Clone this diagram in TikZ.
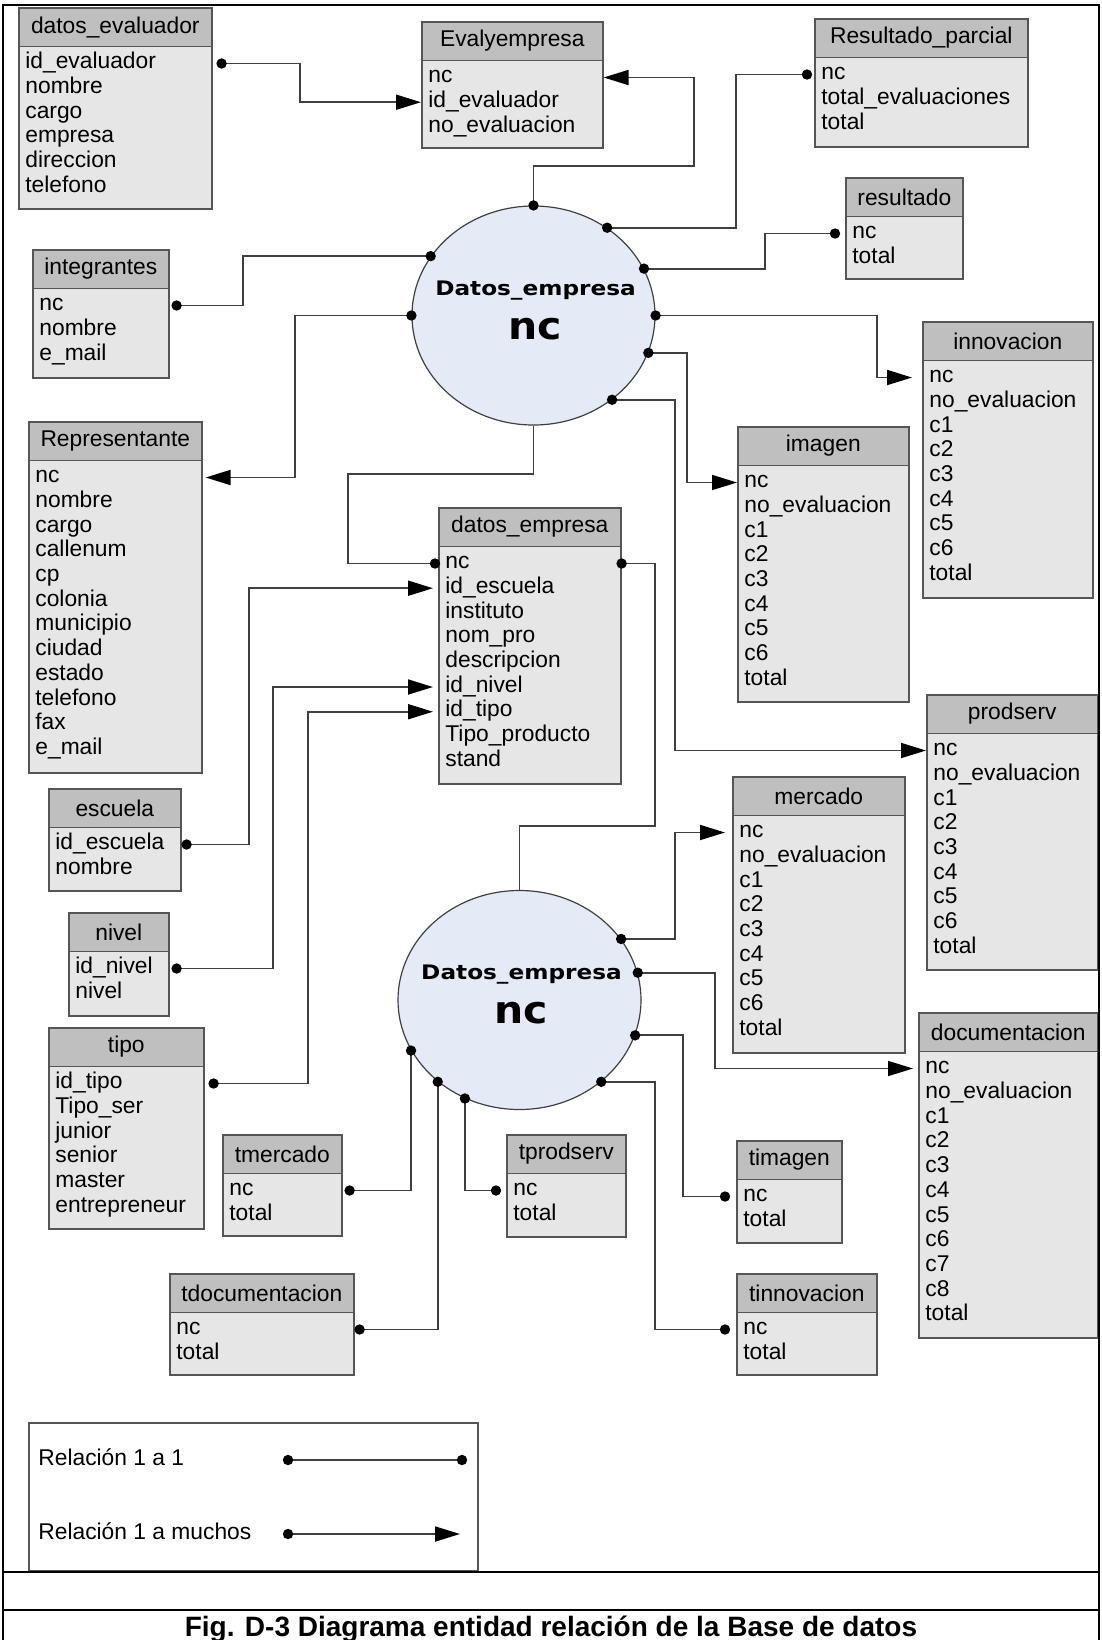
\documentclass[tikz,border=0pt]{standalone}
\usepackage{graphicx}
\usepackage{fontspec}
\setmainfont{Liberation Sans}
\newfontfamily\circfont{DejaVu Sans}
\usepackage{tikz}
\usetikzlibrary{arrows.meta,calc,shapes.geometric}

\definecolor{cabgris}{HTML}{BFBFBF}
\definecolor{cuegris}{HTML}{E6E6E6}
\definecolor{borde}{HTML}{555555}
\definecolor{linea}{HTML}{404040}
\definecolor{circulo}{HTML}{E4EAF6}

\newcommand{\tabfont}{\fontsize{11.4}{13}\selectfont}

\tikzset{
  cuerpo/.style={draw=borde,fill=cuegris,line width=0.8pt,anchor=north west,inner sep=0pt},
  cabecera/.style={draw=borde,fill=cabgris,line width=0.8pt,anchor=north west,inner sep=0pt,
    minimum height=19.25pt,font=\tabfont},
  campo/.style={anchor=mid west,inner sep=0pt,font=\tabfont},
  entidad/.style={ellipse,draw=linea,fill=circulo,line width=0.6pt,
    minimum width=121.5pt,minimum height=109.5pt,inner sep=0pt},
  titent/.style={anchor=base,inner sep=0pt,font=\circfont\bfseries\fontsize{10}{12}\selectfont},
  clavent/.style={anchor=base,inner sep=0pt,font=\circfont\bfseries\fontsize{19}{22}\selectfont},
  rel/.style={draw=linea,line width=0.9pt},
  muchos/.style={rel,-{Triangle[length=12.5pt,width=7.5pt,color=black]}},
}

% name, left, top, right, bottom, title, fields
\newcommand{\tabla}[7]{%
  \node [cuerpo,minimum width={(#4-#2)*0.5pt},minimum height={(#5-#3)*0.5pt}] (#1) at (#2,#3) {};
  \node [cabecera,minimum width={(#4-#2)*0.5pt}] (#1-t) at (#2,#3) {#6};
  \foreach \campo [count=\i] in {#7}
    \node [campo] (#1-\i) at ({#2+7},{#3+56.5+24.7*(\i-1)}) {\campo};
}

\begin{document}
\begin{tikzpicture}[x=0.5pt,y=-0.5pt]
  \useasboundingbox (0,0) rectangle (1102,1640);

  \tabla{evaluador}{18}{7}{211}{208}{datos\_evaluador}{id\_evaluador,nombre,cargo,empresa,direccion,telefono}
  \tabla{evalyemp}{421}{21}{602}{147}{Evalyempresa}{nc,id\_evaluador,no\_evaluacion}
  \tabla{resparcial}{814}{18}{1027}{146}{Resultado\_parcial}{nc,total\_evaluaciones,total}
  \tabla{resultado}{845}{177}{962}{278}{resultado}{nc,total}
  \tabla{integrantes}{32}{249}{168}{377}{integrantes}{nc,nombre,e\_mail}
  \tabla{innovacion}{922}{321}{1092}{597}{innovacion}{nc,no\_evaluacion,c1,c2,c3,c4,c5,c6,total}
  \tabla{representante}{28}{421}{201}{772}{Representante}{nc,nombre,cargo,callenum,cp,colonia,municipio,ciudad,estado,telefono,fax,e\_mail}
  \tabla{imagen}{737}{426}{908}{701}{imagen}{nc,no\_evaluacion,c1,c2,c3,c4,c5,c6,total}
  \tabla{empresa}{438}{507}{620}{783}{datos\_empresa}{nc,id\_escuela,instituto,nom\_pro,descripcion,id\_nivel,id\_tipo,Tipo\_producto,stand}
  \tabla{prodserv}{926}{694}{1097}{969}{prodserv}{nc,no\_evaluacion,c1,c2,c3,c4,c5,c6,total}
  \tabla{mercado}{732}{776}{904}{1052}{mercado}{nc,no\_evaluacion,c1,c2,c3,c4,c5,c6,total}
  \tabla{escuela}{48}{788}{180}{890}{escuela}{id\_escuela,nombre}
  \tabla{nivel}{68}{912}{168}{1015}{nivel}{id\_nivel,nivel}
  \tabla{documentacion}{918}{1012}{1097}{1337}{documentacion}{nc,no\_evaluacion,c1,c2,c3,c4,c5,c6,c7,c8,total}
  \tabla{tipo}{48}{1027}{203}{1228}{tipo}{id\_tipo,Tipo\_ser,junior,senior,master,entrepreneur}
  \tabla{tmercado}{222}{1134}{341}{1235}{tmercado}{nc,total}
  \tabla{tprodserv}{506}{1134}{625}{1236}{tprodserv}{nc,total}
  \tabla{timagen}{736}{1140}{841}{1242}{timagen}{nc,total}
  \tabla{tdocumentacion}{169}{1273}{353}{1374}{tdocumentacion}{nc,total}
  \tabla{tinnovacion}{736}{1273}{876}{1374}{tinnovacion}{nc,total}

  \node [entidad] (ent1) at (533.5,315.5) {};
  \node [titent] (ent1-a) at ([xshift=1pt,yshift=10.25pt]ent1.center) {\scalebox{1.16}[1]{Datos\_empresa}};
  \node [clavent] (ent1-b) at ([xshift=1pt,yshift=-11.75pt]ent1.center) {\scalebox{1.08}[1]{nc}};
  \node [entidad] (ent2) at (519.5,1000) {};
  \node [titent] (ent2-a) at ([xshift=1pt,yshift=10.25pt]ent2.center) {\scalebox{1.16}[1]{Datos\_empresa}};
  \node [clavent] (ent2-b) at ([xshift=1pt,yshift=-11.75pt]ent2.center) {\scalebox{1.08}[1]{nc}};

  \coordinate (p-eval) at ($(evaluador.east |- evaluador-1.mid)+(9,0)$);
  \coordinate (p-rpar) at ($(resparcial.west |- resparcial-1.mid)+(-7,0)$);
  \coordinate (p-res) at ($(resultado.west |- resultado-1.mid)+(-10,0)$);
  \coordinate (p-int) at ($(integrantes.east |- integrantes-1.mid)+(7,0)$);
  \coordinate (p-emp1) at ($(empresa.west |- empresa-1.mid)+(-3,0)$);
  \coordinate (p-emp2) at (empresa.east |- empresa-1.mid);
  \coordinate (p-esc) at ($(escuela.east |- escuela-1.mid)+(5,0)$);
  \coordinate (p-niv) at ($(nivel.east |- nivel-1.mid)+(7,0)$);
  \coordinate (p-tip) at ($(tipo.east |- tipo-1.mid)+(9,0)$);
  \coordinate (p-tim) at ($(timagen.west |- timagen-1.mid)+(-11,0)$);
  \coordinate (p-tinn) at ($(tinnovacion.west |- tinnovacion-1.mid)+(-11,0)$);
  \coordinate (p-tmer) at ($(tmercado.east |- tmercado-1.mid)+(7,0)$);
  \coordinate (p-tdoc) at ($(tdocumentacion.east |- tdocumentacion-1.mid)+(5,0)$);
  \coordinate (p-tprod) at ($(tprodserv.west |- tprodserv-1.mid)+(-10,0)$);

  \draw [muchos] (p-eval) -- (p-eval -| 300,0) -- (evalyemp-2.mid -| 300,0) -- (evalyemp.west |- evalyemp-2.mid);
  \draw [muchos] (ent1.90) -- (ent1.90 |- 0,166) -- (694,166) -- (evalyemp-1.mid -| 694,0) -- (evalyemp.east |- evalyemp-1.mid);
  \draw [rel] (ent1.50) -- (ent1.50 -| 736,0) -- (p-rpar -| 736,0) -- (p-rpar);
  \draw [rel] (ent1.23) -- (ent1.23 -| 765,0) -- (p-res -| 765,0) -- (p-res);
  \draw [muchos] (ent1.0) -- (ent1.0 -| 877,0) -- (innovacion-1.mid -| 877,0) -- ($(innovacion.west |- innovacion-1.mid)+(-10,0)$);
  \draw [muchos] (ent1.342) -- (ent1.342 -| 687,0) -- (imagen-1.mid -| 687,0) -- (imagen.west |- imagen-1.mid);
  \draw [muchos] (ent1.313) -- (ent1.313 -| 675,0) -- (prodserv-1.mid -| 675,0) -- (prodserv.west |- prodserv-1.mid);
  \draw [rel] (ent1.150) -- (ent1.150 -| 243,0) -- (p-int -| 243,0) -- (p-int);
  \draw [muchos] (ent1.180) -- (ent1.180 -| 295,0) -- (representante-1.mid -| 295,0) -- ($(representante.east |- representante-1.mid)+(3,0)$);
  \draw [rel] (ent1.270) -- (ent1.270 |- 0,474) -- (348,474) -- (p-emp1 -| 348,0) -- (p-emp1);
  \draw [muchos] (p-esc) -- (p-esc -| 249,0) -- (empresa-2.mid -| 249,0) -- ($(empresa.west |- empresa-2.mid)+(-5,0)$);
  \draw [muchos] (p-niv) -- (p-niv -| 273,0) -- (empresa-6.mid -| 273,0) -- ($(empresa.west |- empresa-6.mid)+(-5,0)$);
  \draw [muchos] (p-tip) -- (p-tip -| 308,0) -- (empresa-7.mid -| 308,0) -- ($(empresa.west |- empresa-7.mid)+(-5,0)$);
  \draw [rel] (p-emp2) -- (p-emp2 -| 655,0) -- (655,826) -- (ent2.90 |- 0,826) -- (ent2.90);
  \draw [muchos] (ent2.31) -- (ent2.31 -| 675,0) -- (mercado-1.mid -| 675,0) -- ($(mercado.west |- mercado-1.mid)+(-7,0)$);
  \draw [muchos] (ent2.13) -- (ent2.13 -| 715,0) -- (documentacion-1.mid -| 715,0) -- ($(documentacion.west |- documentacion-1.mid)+(-5,0)$);
  \draw [rel] (ent2.343) -- (ent2.343 -| 683,0) -- (p-tim -| 683,0) -- (p-tim);
  \draw [rel] (ent2.315) -- (ent2.315 -| 655,0) -- (p-tinn -| 655,0) -- (p-tinn);
  \draw [rel] (ent2.205) |- (p-tmer);
  \draw [rel] (ent2.225) |- (p-tdoc);
  \draw [rel] (ent2.241) |- (p-tprod);

  \draw [borde,line width=0.6pt] (29,1423) rectangle (478,1571);
  \node [campo] (leg1) at (38,1460) {Relación 1 a 1};
  \node [campo] (leg2) at (38,1534) {Relación 1 a muchos};
  \coordinate (l1a) at (288,1460);
  \coordinate (l1b) at (462,1460);
  \coordinate (l2a) at (288,1534);
  \coordinate (l2b) at (460,1534);
  \draw [rel] (l1a) -- (l1b);
  \draw [muchos] (l2a) -- (l2b);

  \foreach \p in {p-eval,ent1.90,ent1.50,p-rpar,ent1.23,p-res,ent1.0,ent1.342,ent1.313,ent1.150,p-int,
    ent1.180,p-emp1,p-esc,p-niv,p-tip,p-emp2,ent2.31,ent2.13,ent2.343,p-tim,ent2.315,p-tinn,
    ent2.205,p-tmer,ent2.225,p-tdoc,ent2.241,p-tprod,l1a,l1b,l2a}
    \fill [black] (\p) circle [radius=2.6pt];

  \draw [black,line width=1.3pt] (3,1640) -- (3,5) -- (1099,5) -- (1099,1640);
  \draw [black,line width=1.3pt] (3,1572) -- (1099,1572) (3,1610) -- (1099,1610);
  \node [anchor=base,inner sep=0pt,font=\bfseries\fontsize{14}{16}\selectfont] (pie) at (551,1636)
    {Fig. D-3 Diagrama entidad relación de la Base de datos};
\end{tikzpicture}
\end{document}
